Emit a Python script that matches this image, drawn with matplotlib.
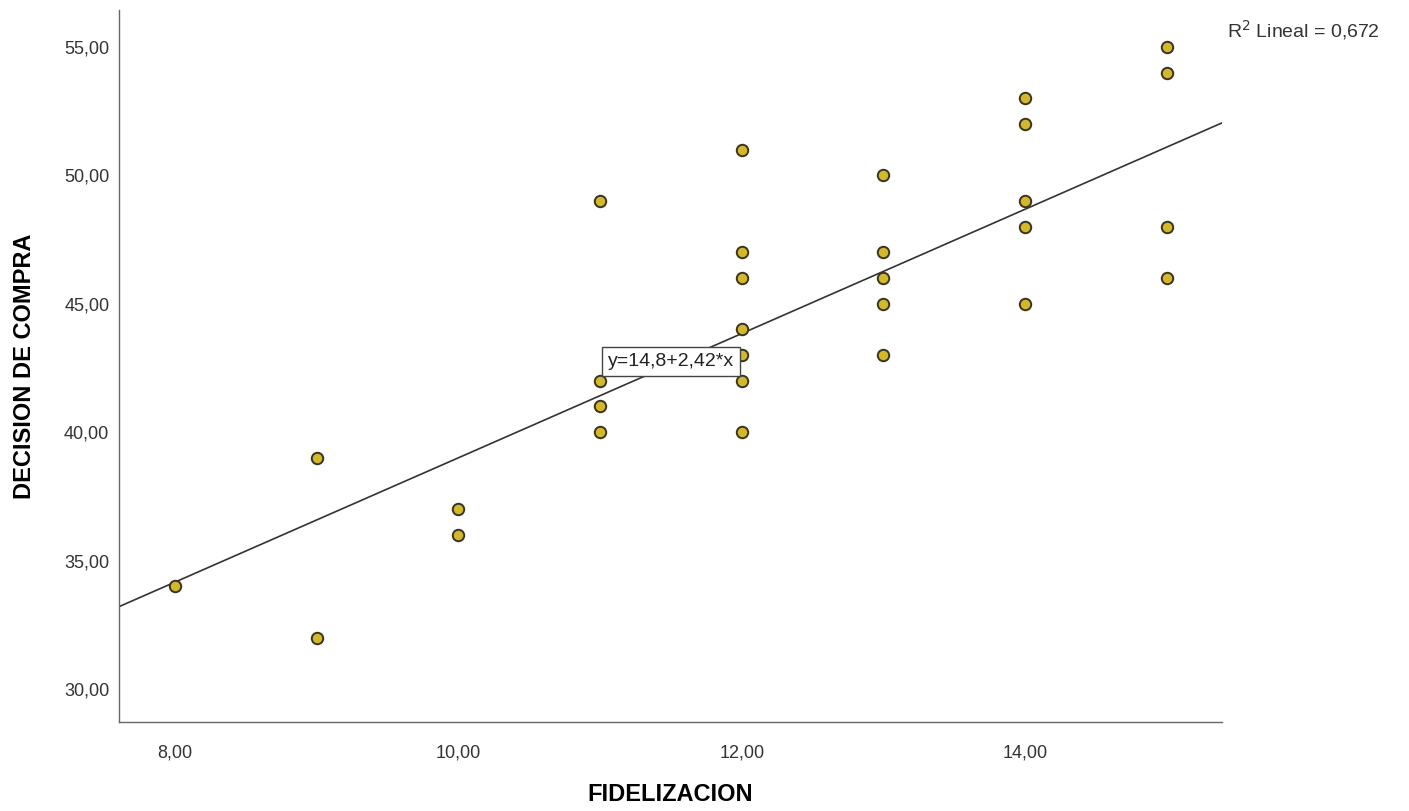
import matplotlib
matplotlib.use("Agg")
import matplotlib.pyplot as plt
import numpy as np
from matplotlib import font_manager

fidelizacion = [8, 9, 9, 10, 10, 11, 11, 11, 11, 12, 12, 12, 12, 12, 12, 12,
                13, 13, 13, 13, 13, 14, 14, 14, 14, 14, 15, 15, 15, 15]
decision = [34, 39, 32, 37, 36, 49, 42, 41, 40, 51, 47, 46, 44, 43, 42, 40,
            50, 47, 46, 45, 43, 53, 52, 49, 48, 45, 55, 54, 48, 46]
intercept = 14.8
slope = 2.42
r2_text = "0,672"
xticks = [8, 10, 12, 14]
yticks = [30, 35, 40, 45, 50, 55]

names = {f.name for f in font_manager.fontManager.ttflist}
base = "Liberation Sans" if "Liberation Sans" in names else "DejaVu Sans"
plt.rcParams['font.family'] = [base, 'DejaVu Sans']

fig = plt.figure(figsize=(14.09, 8.11), dpi=100)
ax = fig.add_axes([0.0845, 0.1097, 0.7828, 0.878])
xmin, xmax = 7.605, 15.39
ax.set_xlim(xmin, xmax)
ax.set_ylim(28.71, 56.44)

ax.scatter(fidelizacion, decision, s=68, facecolor='#D4B82C', edgecolor='#3a3320',
           linewidth=1.4, zorder=3)
xl = np.array([xmin, xmax])
ax.plot(xl, intercept + slope * xl, color='#333333', linewidth=1.2, zorder=2)

ax.text(11.5, 42.75, "y=14,8+2,42*x", ha='center', va='center', fontsize=14,
        color='#222222', zorder=5,
        bbox=dict(boxstyle='square,pad=0.3', facecolor='white', edgecolor='#444444', linewidth=1))

for s in ['top', 'right']:
    ax.spines[s].set_visible(False)
for s in ['left', 'bottom']:
    ax.spines[s].set_color('#666666')
    ax.spines[s].set_linewidth(1)

ax.set_xticks(xticks)
ax.set_xticklabels([f"{v},00" for v in xticks])
ax.set_yticks(yticks)
ax.set_yticklabels([f"{v},00" for v in yticks])
ax.tick_params(axis='both', length=0, labelsize=13, colors='#333333')
ax.tick_params(axis='x', pad=16)
ax.tick_params(axis='y', pad=7)

ax.set_xlabel("FIDELIZACION", fontsize=17, fontweight='bold', labelpad=16)
ax.set_ylabel("DECISION DE COMPRA", fontsize=17, fontweight='bold', labelpad=20)

fig.text(0.8705, 0.963, r"R$^2$ Lineal = " + r2_text, fontsize=14, color='#333333', ha='left', va='center')

fig.savefig("out.png", dpi=100, facecolor='white')
